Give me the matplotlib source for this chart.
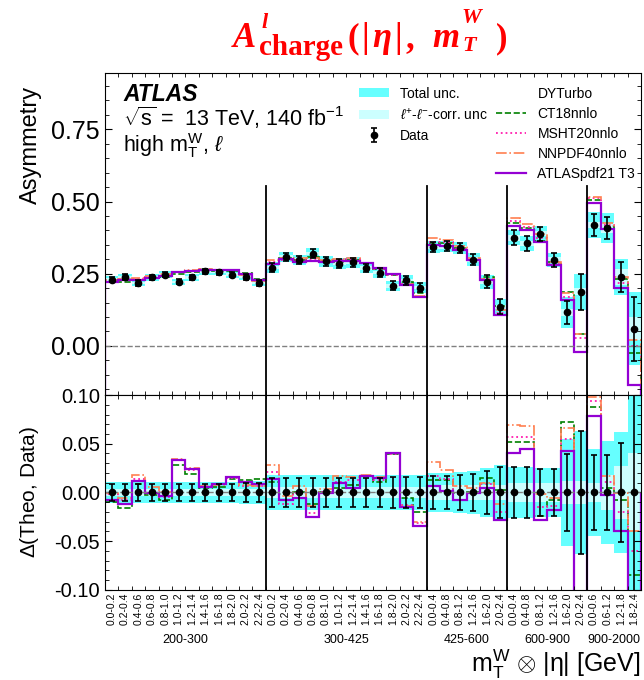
import numpy as np
import matplotlib.pyplot as plt
import matplotlib.transforms as mtransforms
from matplotlib.patches import Patch
from matplotlib.lines import Line2D
from matplotlib.ticker import MultipleLocator, FixedLocator, FormatStrFormatter

plt.rcParams['font.family'] = ['Liberation Sans', 'DejaVu Sans']
plt.rcParams['mathtext.fontset'] = 'custom'
plt.rcParams['mathtext.rm'] = 'Liberation Sans'
plt.rcParams['mathtext.it'] = 'Liberation Sans:italic'
plt.rcParams['mathtext.bf'] = 'Liberation Sans:bold'

# mT bins and |eta| bins inside each one
mass_bins = ["200-300", "300-425", "425-600", "600-900", "900-2000"]
n_eta = [12, 12, 6, 6, 4]
eta_labels = [
    "0.0-0.2", "0.2-0.4", "0.4-0.6", "0.6-0.8", "0.8-1.0", "1.0-1.2",
    "1.2-1.4", "1.4-1.6", "1.6-1.8", "1.8-2.0", "2.0-2.2", "2.2-2.4",
    "0.0-0.2", "0.2-0.4", "0.4-0.6", "0.6-0.8", "0.8-1.0", "1.0-1.2",
    "1.2-1.4", "1.4-1.6", "1.6-1.8", "1.8-2.0", "2.0-2.2", "2.2-2.4",
    "0.0-0.4", "0.4-0.8", "0.8-1.2", "1.2-1.6", "1.6-2.0", "2.0-2.4",
    "0.0-0.4", "0.4-0.8", "0.8-1.2", "1.2-1.6", "1.6-2.0", "2.0-2.4",
    "0.0-0.6", "0.6-1.2", "1.2-1.8", "1.8-2.4",
]

# measured asymmetry
asym_data = [
    0.230, 0.239, 0.218, 0.237, 0.247, 0.222, 0.237, 0.258, 0.255, 0.247, 0.239, 0.219,
    0.271, 0.308, 0.297, 0.320, 0.293, 0.285, 0.289, 0.270, 0.254, 0.208, 0.227, 0.202,
    0.343, 0.345, 0.339, 0.299, 0.222, 0.135,
    0.375, 0.355, 0.389, 0.297, 0.116, 0.187,
    0.418, 0.409, 0.239, 0.060,
]
data_err = [
    0.009, 0.009, 0.009, 0.009, 0.009, 0.009, 0.009, 0.009, 0.009, 0.009, 0.010, 0.010,
    0.015, 0.015, 0.015, 0.015, 0.015, 0.015, 0.015, 0.015, 0.015, 0.016, 0.016, 0.016,
    0.017, 0.017, 0.018, 0.019, 0.022, 0.026,
    0.026, 0.026, 0.024, 0.024, 0.039, 0.063,
    0.038, 0.038, 0.051, 0.111,
]
tot_unc = [
    0.011, 0.011, 0.011, 0.011, 0.011, 0.011, 0.011, 0.011, 0.011, 0.011, 0.012, 0.012,
    0.018, 0.018, 0.018, 0.018, 0.018, 0.018, 0.018, 0.018, 0.018, 0.018, 0.018, 0.018,
    0.020, 0.020, 0.021, 0.022, 0.025, 0.028,
    0.026, 0.026, 0.025, 0.025, 0.055, 0.063,
    0.045, 0.053, 0.062, 0.125,
]
corr_unc = [
    0.004, 0.004, 0.004, 0.004, 0.004, 0.004, 0.004, 0.004, 0.004, 0.004, 0.004, 0.004,
    0.006, 0.006, 0.006, 0.006, 0.006, 0.006, 0.006, 0.006, 0.006, 0.006, 0.006, 0.006,
    0.008, 0.008, 0.008, 0.008, 0.008, 0.008,
    0.010, 0.010, 0.010, 0.010, 0.012, 0.012,
    0.010, 0.018, 0.027, 0.040,
]

# theory minus data, per PDF set
d_ct18 = [
    -0.010, -0.016, 0.009, -0.003, -0.008, 0.028, 0.019, 0.005, 0.006, 0.014, 0.013, 0.014,
    0.011, -0.002, 0.001, -0.012, 0.000, 0.005, 0.008, 0.017, 0.011, 0.039, -0.006, -0.020,
    0.013, 0.013, -0.001, 0.000, 0.015, 0.003,
    0.052, 0.052, -0.024, -0.008, 0.072, -0.144,
    0.088, 0.005, -0.008, -0.085,
]
d_msht = [
    -0.002, -0.008, 0.014, 0.000, -0.005, 0.033, 0.023, 0.007, 0.009, 0.015, 0.007, 0.007,
    0.021, -0.012, -0.001, -0.021, 0.000, 0.011, 0.013, 0.017, 0.013, 0.039, -0.013, -0.031,
    0.017, 0.014, -0.002, 0.000, 0.009, -0.020,
    0.057, 0.057, -0.015, -0.014, 0.055, -0.161,
    0.094, 0.011, -0.020, -0.060,
]
d_nnpdf = [
    -0.001, -0.006, 0.018, 0.006, 0.001, 0.034, 0.025, 0.007, 0.008, 0.016, 0.008, 0.007,
    0.028, -0.004, 0.007, -0.014, 0.004, 0.017, 0.016, 0.018, 0.016, 0.040, -0.014, -0.030,
    0.031, 0.023, 0.007, 0.005, 0.010, -0.012,
    0.069, 0.068, -0.002, -0.006, 0.066, -0.144,
    0.098, 0.017, -0.001, -0.040,
]
d_atlas = [
    -0.008, -0.012, 0.012, -0.001, -0.004, 0.033, 0.024, 0.006, 0.009, 0.016, 0.011, 0.009,
    0.014, -0.008, -0.006, -0.025, -0.001, 0.010, 0.005, 0.017, 0.015, 0.041, -0.015, -0.034,
    0.007, 0.002, -0.008, -0.001, 0.005, -0.028,
    0.041, 0.045, -0.028, -0.018, 0.043, -0.208,
    0.078, -0.003, -0.040, -0.196,
]

c_tot = '#66ffff'
c_corr = '#ccffff'
theories = [
    ("CT18nnlo", d_ct18, 'green', '--', 1.2),
    ("MSHT20nnlo", d_msht, '#ff1cae', ':', 1.3),
    ("NNPDF40nnlo", d_nnpdf, '#ff7f50', '-.', 1.2),
    ("ATLASpdf21 T3", d_atlas, 'darkviolet', '-', 1.6),
]

data = np.array(asym_data)
err = np.array(data_err)
tot = np.array(tot_unc)
corr = np.array(corr_unc)
edges = np.arange(len(data) + 1)
centers = edges[:-1] + 0.5
bounds = np.cumsum(n_eta)[:-1]
ymin_top = -0.17

fig = plt.figure(figsize=(6.44, 6.80), dpi=100)
ax1 = fig.add_axes([0.163, 0.4191, 0.8323, 0.4735])
ax2 = fig.add_axes([0.163, 0.1324, 0.8323, 0.2867])

# top panel: asymmetry
ax1.stairs(data + tot, edges, baseline=data - tot, fill=True, color=c_tot, lw=0)
ax1.stairs(data + corr, edges, baseline=data - corr, fill=True, color=c_corr, lw=0)
ax1.axhline(0, color='grey', ls='--', lw=1)
handles_th = []
for name, d, col, ls, lw in theories:
    ax1.stairs(data + np.array(d), edges, baseline=ymin_top, color=col, ls=ls, lw=lw)
    handles_th.append(Line2D([], [], color=col, ls=ls, lw=lw))
eb = ax1.errorbar(centers, data, yerr=err, fmt='o', color='k', ms=4.5,
                  capsize=2.2, elinewidth=1.2, capthick=1.2, zorder=5)
for b in bounds:
    ax1.plot([b, b], [ymin_top, 0.553], color='k', lw=1.3)

# bottom panel: theory - data
ax2.stairs(tot, edges, baseline=-tot, fill=True, color=c_tot, lw=0)
ax2.stairs(corr, edges, baseline=-corr, fill=True, color=c_corr, lw=0)
ax2.axhline(0, color='grey', ls='--', lw=1)
for name, d, col, ls, lw in theories:
    ax2.stairs(np.array(d), edges, color=col, ls=ls, lw=lw)
ax2.errorbar(centers, np.zeros(len(data)), yerr=err, fmt='o', color='k', ms=4.5,
             capsize=2.2, elinewidth=1.2, capthick=1.2, zorder=5)
for b in bounds:
    ax2.axvline(b, color='k', lw=1.3)

# axes styling
for ax in (ax1, ax2):
    ax.set_xlim(0, len(data))
    ax.set_xticks(centers)
    ax.xaxis.set_minor_locator(FixedLocator(edges[1:-1]))
    ax.tick_params(which='both', direction='in', top=True, right=True)
    ax.tick_params(axis='y', which='major', length=5)
    ax.tick_params(which='minor', length=3)
    ax.tick_params(axis='x', which='major', length=0)
    ax.yaxis.set_major_formatter(FormatStrFormatter('%.2f'))

ax1.set_ylim(ymin_top, 0.945)
ax1.yaxis.set_major_locator(MultipleLocator(0.25))
ax1.yaxis.set_minor_locator(MultipleLocator(0.05))
ax1.tick_params(axis='x', labelbottom=False)
ax1.tick_params(axis='y', labelsize=18)
ax1.set_ylabel('Asymmetry', fontsize=17, loc='top')
ax1.yaxis.set_label_coords(-0.118, 0.96)

ax2.set_ylim(-0.1, 0.1)
ax2.yaxis.set_major_locator(MultipleLocator(0.05))
ax2.yaxis.set_minor_locator(MultipleLocator(0.01))
ax2.set_xticklabels(eta_labels, rotation=90, fontsize=7.5)
ax2.tick_params(axis='x', pad=2)
ax2.tick_params(axis='y', labelsize=14.5)
ax2.set_ylabel(r'$\Delta$(Theo, Data)', fontsize=15)
ax2.yaxis.set_label_coords(-0.12, 0.5)

# mT group labels under the eta labels
trans = mtransforms.blended_transform_factory(ax2.transData, ax2.transAxes)
start = 0
for name, n in zip(mass_bins, n_eta):
    ax2.text(start + n / 2, -0.256, name, transform=trans, ha='center', va='center', fontsize=9)
    start += n
ax2.text(1.0, -0.38, r'm$_{\mathrm{T}}^{\mathrm{W}}$ $\otimes$ |η| [GeV]', transform=ax2.transAxes,
         ha='right', va='center', fontsize=18)

# ATLAS label
ax1.text(0.034, 0.912, 'ATLAS', transform=ax1.transAxes, fontsize=16.5,
         fontweight='bold', fontstyle='italic')
ax1.text(0.034, 0.836, r'$\sqrt{\mathrm{s}}$ =  13 TeV, 140 fb$^{-1}$', transform=ax1.transAxes, fontsize=15.5)
ax1.text(0.034, 0.756, r'high m$_{\mathrm{T}}^{\mathrm{W}}$, $\ell$', transform=ax1.transAxes, fontsize=15.5)

# legend in two columns
h_tot = Patch(facecolor=c_tot, edgecolor='none')
h_corr = Patch(facecolor=c_corr, edgecolor='none')
h_blank = Line2D([], [], color='none')
handles = [h_tot, h_corr, eb, h_blank, h_blank, h_blank] + handles_th
labels = ['Total unc.', r'$\ell^{+}$-$\ell^{-}$-corr. unc', 'Data', '', '',
          'DYTurbo'] + [t[0] for t in theories]
ax1.legend(handles, labels, ncol=2, loc='upper left', bbox_to_anchor=(0.455, 0.988),
           frameon=False, fontsize=10, handlelength=2.2, handletextpad=0.8,
           columnspacing=0.55, labelspacing=0.43, borderaxespad=0.3, handleheight=0.6)

# title, built from pieces so the sub/superscripts can be sized like the original
rend = fig.canvas.get_renderer()
px = mtransforms.IdentityTransform()
base = 680 - 47
red_kw = dict(color='red', family='Liberation Serif', weight='bold', va='baseline', ha='left', transform=px)
pieces = []
x = 0.0


def piece(s, size, italic, xpos, dy):
    t = fig.text(xpos, base + dy, s, fontsize=size, style='italic' if italic else 'normal', **red_kw)
    w = t.get_window_extent(rend).width
    pieces.append((t, xpos))
    return w


x += piece('A', 25, True, x, 0) + 3
w_l = piece('l', 16, True, x + 2, 19)
w_c = piece('charge', 21, False, x, -8)
x += max(w_l, w_c) + 4
x += piece('(', 25, False, x, 0) + 3
x += piece('|', 25, False, x, 0) + 3
x += piece('η', 25, True, x, 0) + 3
x += piece('|', 25, False, x, 0) + 4
x += piece(',', 25, False, x, 0) + 18
x += piece('m', 25, True, x, 0) + 2
w_w = piece('W', 16, True, x, 24)
w_t = piece('T', 16, True, x + 1, -4)
x += max(w_w, w_t) + 14
x += piece(')', 25, False, x, 0)
x0 = 370 - x / 2
for t, xpos in pieces:
    t.set_x(x0 + xpos)

fig.savefig('out.png', dpi=100)
